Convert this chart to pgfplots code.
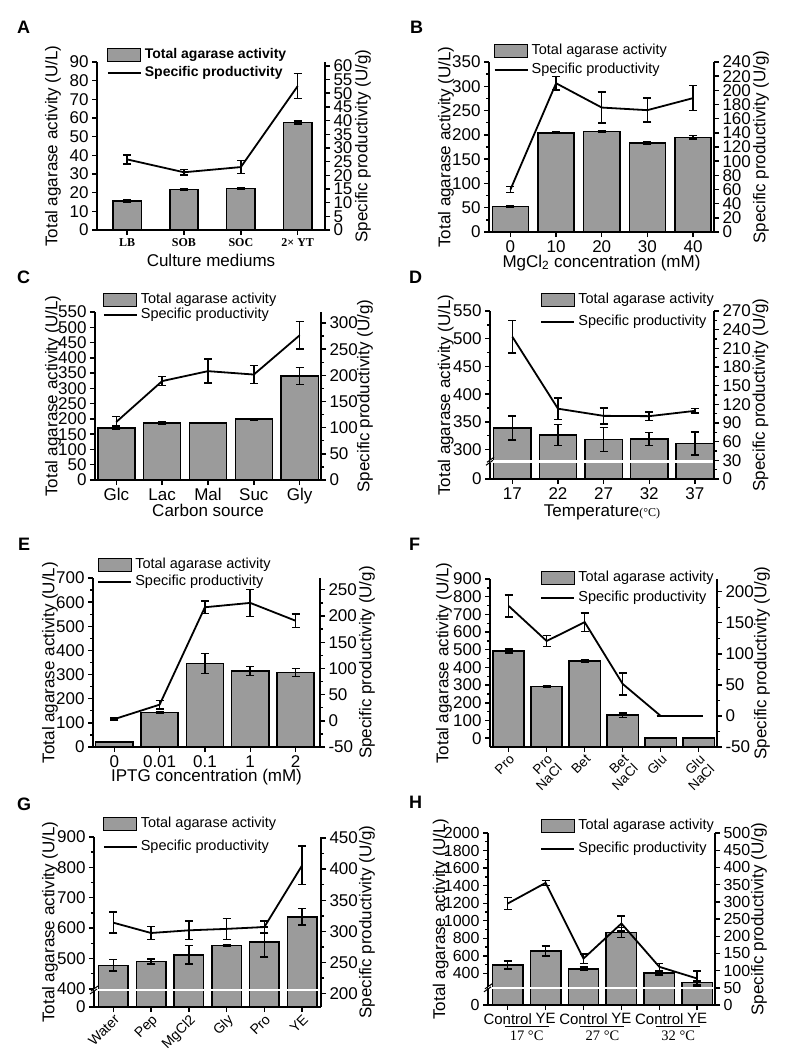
\documentclass[border=0pt]{standalone}
\usepackage{fontspec}
\setmainfont{Liberation Sans}
\newfontfamily\serif{Liberation Serif}
\usepackage{pgfplots}
\pgfplotsset{compat=1.18}
\definecolor{barfill}{RGB}{155,155,155}
\newcommand{\fs}[1]{\fontsize{#1}{#1}\selectfont}
\pgfplotsset{
  base/.style={scale only axis, anchor=south west, tick align=outside,
    axis line style={-, line width=1.8pt},
    major tick length=5pt, minor tick length=3pt,
    every tick/.append style={line width=1.4pt, black},
    tick label style={font=\fs{17}},
    label style={font=\fs{17}},
    /pgf/number format/assume math mode=true,
    clip mode=individual},
  leftax/.style={base, axis x line*=bottom, axis y line*=left},
  rightax/.style={base, axis x line=none, axis y line*=right},
  errs/.style={error bars/y dir=both, error bars/y explicit,
    error bars/error bar style={line width=1.5pt, black},
    error bars/error mark options={rotate=90, line width=1.5pt, mark size=4pt, black}},
  barplot/.style={ybar, bar width=#1, fill=barfill, draw=black, line width=1.5pt, errs},
  lineplot/.style={black, line width=1.8pt, mark=none, forget plot, errs},
  leg/.style={legend cell align=left, legend style={at={#1}, anchor=north west, draw=none, fill=none,
    inner sep=0pt, font=\fs{14.5}, nodes={inner sep=1pt, inner xsep=3pt, text height=9.5pt, text depth=2.5pt}}},
  barleg/.style={legend image code/.code={\draw[fill=barfill, draw=black, line width=1.2pt] (0pt,-6.5pt) rectangle (33pt,6.5pt);}},
  lineleg/.style={legend image code/.code={\draw[black, line width=2pt] (0pt,0pt) -- (33pt,0pt);}},
}
\begin{document}
\begin{tikzpicture}
\useasboundingbox (0,0) rectangle (788pt,-1063pt);
% panel letters
\node[font=\bfseries\fs{18}, anchor=base west, inner sep=0] at (17pt,-33pt) {A};
\node[font=\bfseries\fs{18}, anchor=base west, inner sep=0] at (410pt,-33pt) {B};
\node[font=\bfseries\fs{18}, anchor=base west, inner sep=0] at (17pt,-283pt) {C};
\node[font=\bfseries\fs{18}, anchor=base west, inner sep=0] at (409pt,-283pt) {D};
\node[font=\bfseries\fs{18}, anchor=base west, inner sep=0] at (18pt,-550pt) {E};
\node[font=\bfseries\fs{18}, anchor=base west, inner sep=0] at (409pt,-550pt) {F};
\node[font=\bfseries\fs{18}, anchor=base west, inner sep=0] at (17pt,-810pt) {G};
\node[font=\bfseries\fs{18}, anchor=base west, inner sep=0] at (409pt,-808pt) {H};

% ================= A =================
\begin{axis}[leftax, at={(97pt,-230pt)}, width=228pt, height=168pt,
  xmin=-0.53, xmax=3.48, ymin=0, ymax=90, ytick={0,10,...,90},
  xtick={0,1,2,3}, xticklabels={LB,SOB,SOC,2× YT},
  xticklabel style={font=\serif\bfseries\fs{12}},
  ylabel={Total agarase activity (U/L)}, ylabel style={at={(axis description cs:-0.193,0.5)}, anchor=center},
  xlabel={Culture mediums}, xlabel style={at={(axis description cs:0.5,-0.179)}, anchor=center}]
\addplot[barplot=0.5] coordinates {(0,15.5) +- (0,0.5) (1,21.7) +- (0,0.5) (2,22.3) +- (0,0.5) (3,57.6) +- (0,0.8)};
\end{axis}
\begin{axis}[rightax, at={(97pt,-230pt)}, width=228pt, height=168pt,
  xmin=-0.53, xmax=3.48, ymin=0, ymax=61.4, ytick={0,5,...,60},
  ylabel={Specific productivity (U/g)}, ylabel style={at={(axis description cs:1.167,0.5)}, anchor=center},
  leg={(0.0425,1.085)}, legend style={row sep=4pt, font=\bfseries\fs{14}}]
\addlegendimage{barleg}\addlegendentry{Total agarase activity}
\addlegendimage{lineleg}\addlegendentry{Specific productivity}
\addplot[lineplot] coordinates {(0,25.8) +- (0,1.6) (1,21.1) +- (0,1) (2,23) +- (0,2.4) (3,52.6) +- (0,4.6)};
\end{axis}

% ================= B =================
\begin{axis}[leftax, at={(489pt,-232pt)}, width=225pt, height=170pt,
  xmin=-0.47, xmax=4.46, ymin=0, ymax=350, ytick={0,50,...,350}, minor y tick num=1,
  xtick={0,1,2,3,4}, xticklabels={0,10,20,30,40},
  ylabel={Total agarase activity (U/L)}, ylabel style={at={(axis description cs:-0.191,0.5)}, anchor=center},
  xlabel={MgCl\textsubscript{2} concentration (mM)}, xlabel style={at={(axis description cs:0.5,-0.182)}, anchor=center}]
\addplot[barplot=0.79] coordinates {(0,53) +- (0,2) (1,204) +- (0,1.5) (2,207) +- (0,2) (3,183) +- (0,3) (4,195) +- (0,4)};
\end{axis}
\begin{axis}[rightax, at={(489pt,-232pt)}, width=225pt, height=170pt,
  xmin=-0.47, xmax=4.46, ymin=0, ymax=240, ytick={0,20,...,240},
  ylabel={Specific productivity (U/g)}, ylabel style={at={(axis description cs:1.209,0.5)}, anchor=center},
  leg={(0.0196,1.11)}, legend style={row sep=5pt}]
\addlegendimage{barleg}\addlegendentry{Total agarase activity}
\addlegendimage{lineleg}\addlegendentry{Specific productivity}
\addplot[lineplot] coordinates {(0,60) +- (0,4) (1,210) +- (0,9.5) (2,175.7) +- (0,21.7) (3,172) +- (0,17) (4,189) +- (0,17.5)};
\end{axis}

% ================= C =================
\begin{axis}[leftax, at={(95pt,-480pt)}, width=226pt, height=168pt,
  xmin=-0.465, xmax=4.465, ymin=0, ymax=550, ytick={0,50,...,550},
  xtick={0,1,2,3,4}, xticklabels={Glc,Lac,Mal,Suc,Gly},
  ylabel={Total agarase activity (U/L)}, ylabel style={at={(axis description cs:-0.186,0.5)}, anchor=center},
  xlabel={Carbon source}, xlabel style={at={(axis description cs:0.5,-0.179)}, anchor=center}]
\addplot[barplot=0.81] coordinates {(0,171) +- (0,5) (1,187) +- (0,3) (2,187) +- (0,1) (3,199) +- (0,3) (4,341) +- (0,28)};
\end{axis}
\begin{axis}[rightax, at={(95pt,-480pt)}, width=226pt, height=168pt,
  xmin=-0.465, xmax=4.465, ymin=0, ymax=321, ytick={0,50,...,300}, minor y tick num=1,
  ylabel={Specific productivity (U/g)}, ylabel style={at={(axis description cs:1.195,0.5)}, anchor=center},
  leg={(0.034,1.113)}, legend style={row sep=1pt}]
\addlegendimage{barleg}\addlegendentry{Total agarase activity}
\addlegendimage{lineleg}\addlegendentry{Specific productivity}
\addplot[lineplot] coordinates {(0,111) +- (0,10) (1,189) +- (0,8.6) (2,208) +- (0,23) (3,201.5) +- (0,17) (4,276.5) +- (0,26)};
\end{axis}

% ================= D =================
\begin{axis}[leftax, at={(490pt,-479pt)}, width=224pt, height=168pt,
  xmin=-0.49, xmax=4.42, ymin=247, ymax=550,
  ytick={247,300,350,400,450,500,550}, yticklabels={0,300,350,400,450,500,550},
  minor ytick={325,375,...,525},
  xtick={0,1,2,3,4}, xticklabels={17,22,27,32,37},
  ylabel={Total agarase activity (U/L)}, ylabel style={at={(axis description cs:-0.198,0.5)}, anchor=center},
  xlabel={Temperature{\serif\fs{12}(°C)}}, xlabel style={at={(axis description cs:0.5,-0.196)}, anchor=center}]
\addplot[barplot=0.82] coordinates {(0,339) +- (0,22) (1,326) +- (0,19) (2,318.6) +- (0,21.6) (3,319) +- (0,12) (4,311) +- (0,21)};
\draw[white, line width=2.6pt] (axis cs:-0.49,279) -- (axis cs:4.40,279);
\draw[black, line width=1pt] (axis cs:-0.49,279) ++(-4pt,-4pt) -- ++(7pt,5pt);
\draw[black, line width=1pt] (axis cs:-0.49,279) ++(-3pt,-1pt) -- ++(7pt,5pt);
\end{axis}
\begin{axis}[rightax, at={(490pt,-479pt)}, width=224pt, height=168pt,
  xmin=-0.49, xmax=4.42, ymin=0, ymax=270, ytick={0,30,...,270}, minor y tick num=1,
  ylabel={Specific productivity (U/g)}, ylabel style={at={(axis description cs:1.208,0.5)}, anchor=center},
  leg={(0.224,1.107)}, legend style={row sep=7.5pt}]
\addlegendimage{barleg}\addlegendentry{Total agarase activity}
\addlegendimage{lineleg}\addlegendentry{Specific productivity}
\addplot[lineplot] coordinates {(0,228.6) +- (0,26) (1,113) +- (0,17) (2,101.5) +- (0,13) (3,101) +- (0,7) (4,109.5) +- (0,3.5)};
\end{axis}

% ================= E =================
\begin{axis}[leftax, at={(93pt,-747pt)}, width=227pt, height=169pt,
  xmin=-0.47, xmax=4.54, ymin=0, ymax=700, ytick={0,100,...,700}, minor y tick num=1,
  xtick={0,1,2,3,4}, xticklabels={0,0.01,0.1,1,2},
  ylabel={Total agarase activity (U/L)}, ylabel style={at={(axis description cs:-0.19,0.5)}, anchor=center},
  xlabel={IPTG concentration (mM)}, xlabel style={at={(axis description cs:0.5,-0.178)}, anchor=center}]
\addplot[barplot=0.82] coordinates {(0,20) +- (0,2) (1,143) +- (0,5) (2,346.5) +- (0,41) (3,314.7) +- (0,18.7) (4,309) +- (0,16)};
\end{axis}
\begin{axis}[rightax, at={(93pt,-747pt)}, width=227pt, height=169pt,
  xmin=-0.47, xmax=4.54, ymin=-50, ymax=272.5, ytick={-50,0,...,250}, minor y tick num=1,
  ylabel={Specific productivity (U/g)}, ylabel style={at={(axis description cs:1.207,0.5)}, anchor=center},
  leg={(0.018,1.118)}, legend style={row sep=3pt}]
\addlegendimage{barleg}\addlegendentry{Total agarase activity}
\addlegendimage{lineleg}\addlegendentry{Specific productivity}
\addplot[lineplot] coordinates {(0,3.2) +- (0,2) (1,30.8) +- (0,8) (2,216.7) +- (0,12) (3,225) +- (0,26) (4,191) +- (0,12.8)};
\end{axis}

% ================= F =================
\begin{axis}[leftax, at={(490pt,-747pt)}, width=227pt, height=168pt,
  xmin=-0.49, xmax=5.48, ymin=0, ymax=950,
  ytick={50,150,...,950}, yticklabels={0,100,200,300,400,500,600,700,800,900},
  minor ytick={100,200,...,900},
  xtick={0,1,2,3,4,5}, xticklabels={Pro,{Pro\\NaCl},Bet,{Bet\\NaCl},Glu,{Glu\\NaCl}},
  xticklabel style={font=\fs{13.5}, rotate=45, anchor=north east, align=right, inner sep=1pt},
  ylabel={Total agarase activity (U/L)}, ylabel style={at={(axis description cs:-0.203,0.5)}, anchor=center}]
\addplot[barplot=0.82, y filter/.expression={y+50}] coordinates {(0,493) +- (0,10) (1,293) +- (0,6) (2,437) +- (0,5) (3,130) +- (0,12) (4,0) +- (0,0) (5,0) +- (0,0)};
\end{axis}
\begin{axis}[rightax, at={(490pt,-747pt)}, width=227pt, height=168pt,
  xmin=-0.49, xmax=5.48, ymin=-50, ymax=220.4, ytick={-50,0,...,200}, minor y tick num=1,
  ylabel={Specific productivity (U/g)}, ylabel style={at={(axis description cs:1.198,0.5)}, anchor=center},
  leg={(0.221,1.048)}, legend style={row sep=6pt}]
\addlegendimage{barleg}\addlegendentry{Total agarase activity}
\addlegendimage{lineleg}\addlegendentry{Specific productivity}
\addplot[lineplot] coordinates {(0,177) +- (0,18) (1,120.6) +- (0,8.6) (2,151) +- (0,15) (3,51.5) +- (0,17.5) (4,0) +- (0,0) (5,0) +- (0,0)};
\end{axis}

% ================= G =================
\begin{axis}[leftax, at={(94pt,-1007pt)}, width=227pt, height=170pt,
  xmin=-0.51, xmax=5.5, ymin=340, ymax=900,
  ytick={340,400,500,600,700,800,900}, yticklabels={0,400,500,600,700,800,900},
  minor ytick={450,550,...,850},
  xtick={0,1,2,3,4,5}, xticklabels={Water,Pep,MgCl2,Gly,Pro,YE},
  xticklabel style={font=\fs{14}, rotate=45, anchor=north east, inner sep=1pt},
  ylabel={Total agarase activity (U/L)}, ylabel style={at={(axis description cs:-0.194,0.5)}, anchor=center}]
\addplot[barplot=0.78] coordinates {(0,477) +- (0,19) (1,490) +- (0,8) (2,512) +- (0,30) (3,543) +- (0,3) (4,554) +- (0,50) (5,637) +- (0,27)};
\draw[white, line width=2.6pt] (axis cs:-0.51,396) -- (axis cs:5.48,396);
\draw[black, line width=1pt] (axis cs:-0.51,396) ++(-4pt,-4pt) -- ++(7pt,5pt);
\draw[black, line width=1pt] (axis cs:-0.51,396) ++(-3pt,-1pt) -- ++(7pt,5pt);
\end{axis}
\begin{axis}[rightax, at={(94pt,-1007pt)}, width=227pt, height=170pt,
  xmin=-0.51, xmax=5.5, ymin=178.5, ymax=451.6, ytick={200,250,...,450}, minor y tick num=1,
  ylabel={Specific productivity (U/g)}, ylabel style={at={(axis description cs:1.203,0.5)}, anchor=center},
  leg={(0.038,1.118)}, legend style={row sep=9pt}]
\addlegendimage{barleg}\addlegendentry{Total agarase activity}
\addlegendimage{lineleg}\addlegendentry{Specific productivity}
\addplot[lineplot] coordinates {(0,314) +- (0,17) (1,297.4) +- (0,10.7) (2,301.7) +- (0,15) (3,304) +- (0,17) (4,307) +- (0,10) (5,406) +- (0,31)};
\end{axis}

% ================= H =================
\begin{axis}[leftax, at={(488pt,-1005pt)}, width=227pt, height=172pt,
  xmin=-0.52, xmax=5.47, ymin=40, ymax=2000,
  ytick={40,400,600,...,2000}, yticklabels={0,400,600,800,1000,1200,1400,1600,1800,2000},
  minor ytick={500,700,...,1900},
  tick label style={font=\fs{16}},
  xtick={0,1,2,3,4,5}, xticklabels={Control,YE,Control,YE,Control,YE},
  xticklabel style={font=\fs{15}},
  ylabel={Total agarase activity (U/L)}, ylabel style={at={(axis description cs:-0.208,0.5)}, anchor=center}]
\addplot[barplot=0.8] coordinates {(0,496) +- (0,45) (1,655) +- (0,55) (2,451) +- (0,20) (3,867) +- (0,55) (4,402) +- (0,20) (5,295) +- (0,20)};
\draw[white, line width=2.6pt] (axis cs:-0.52,236) -- (axis cs:5.45,236);
\draw[black, line width=1pt] (axis cs:-0.52,236) ++(-4pt,-4pt) -- ++(7pt,5pt);
\draw[black, line width=1pt] (axis cs:-0.52,236) ++(-3pt,-1pt) -- ++(7pt,5pt);
\draw[line width=0.8pt] ([xshift=-22pt,yshift=-21.7pt]axis cs:0.5,40) -- ([xshift=22pt,yshift=-21.7pt]axis cs:0.5,40);
\draw[line width=0.8pt] ([xshift=-22pt,yshift=-21.7pt]axis cs:2.5,40) -- ([xshift=22pt,yshift=-21.7pt]axis cs:2.5,40);
\draw[line width=0.8pt] ([xshift=-22pt,yshift=-21.7pt]axis cs:4.5,40) -- ([xshift=22pt,yshift=-21.7pt]axis cs:4.5,40);
\node[font=\serif\fs{14.5}] at ([yshift=-31pt]axis cs:0.5,40) {17 °C};
\node[font=\serif\fs{14.5}] at ([yshift=-31pt]axis cs:2.5,40) {27 °C};
\node[font=\serif\fs{14.5}] at ([yshift=-31pt]axis cs:4.5,40) {32 °C};
\end{axis}
\begin{axis}[rightax, at={(488pt,-1005pt)}, width=227pt, height=172pt,
  xmin=-0.52, xmax=5.47, ymin=0, ymax=500, ytick={0,50,...,500},
  tick label style={font=\fs{16}},
  ylabel={Specific productivity (U/g)}, ylabel style={at={(axis description cs:1.194,0.5)}, anchor=center},
  leg={(0.23,1.081)}, legend style={row sep=9pt}]
\addlegendimage{barleg}\addlegendentry{Total agarase activity}
\addlegendimage{lineleg}\addlegendentry{Specific productivity}
\addplot[lineplot] coordinates {(0,295) +- (0,17) (1,355) +- (0,7) (2,135) +- (0,14) (3,237) +- (0,22) (4,111) +- (0,10) (5,77) +- (0,22)};
\end{axis}
\end{tikzpicture}
\end{document}
